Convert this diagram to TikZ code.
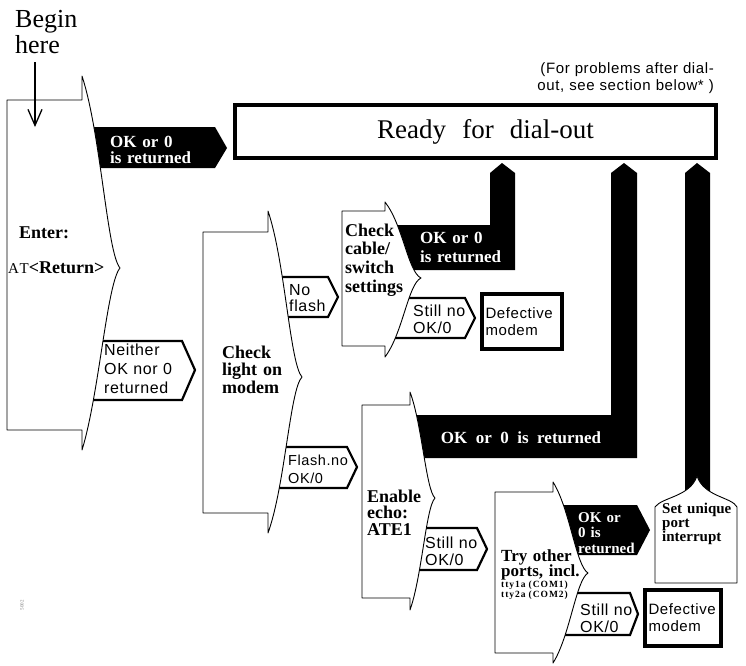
\documentclass[tikz,border=0pt]{standalone}
\usepackage{fontspec}
\setmainfont{Liberation Serif}
\setsansfont{Liberation Sans}
\newfontfamily\tabfont[LetterSpace=4]{Liberation Sans}
\newfontfamily\atfont[LetterSpace=15]{Liberation Serif}
\newfontfamily\ttyfont[LetterSpace=10]{Liberation Serif}
\usetikzlibrary{arrows.meta}

\begin{document}
\begin{tikzpicture}[x=1pt,y=-1pt,
    scroll/.style={draw,fill=white,line width=0.9pt,line join=round},
    whitetab/.style={draw,fill=white,line width=2.2pt},
    blackbar/.style={fill=black},
    heavybox/.style={draw,line width=4pt,inner sep=0pt},
    txt/.style={inner sep=0pt,anchor=base west,text width=120pt,align=left},
    headtxt/.style={txt,font={\bfseries\fontsize{18}{17.5}\selectfont\spaceskip=.4em\relax}},
    tabtxt/.style={txt,font={\tabfont\fontsize{16}{17}\selectfont\spaceskip=.45em\relax}},
    blacktxt/.style={txt,text=white,font={\bfseries\fontsize{17}{16.5}\selectfont\spaceskip=.45em\relax}}]
\useasboundingbox (0,0) rectangle (746,665);

% black connectors (behind the boxes)
\fill[blackbar] (90,127) -- (215,127) -- (227,148) -- (215,168) -- (90,168) -- cycle;
\fill[blackbar] (395,225) -- (490,225) -- (490,173) -- (502,163) -- (515,173) -- (515,270) -- (395,270) -- cycle;
\fill[blackbar] (400,415) -- (611,415) -- (611,173) -- (624,163) -- (637,173) -- (637,458) -- (400,458) -- cycle;
\fill[blackbar] (685,500) -- (685,173) -- (697,163) -- (710,173) -- (710,500) -- cycle;
\fill[blackbar] (560,505) -- (637,505) -- (650,530) -- (637,555) -- (560,555) -- cycle;

% white tabs
\draw[whitetab] (85,341) -- (182,341) -- (195,370) -- (182,400) -- (85,400);
\draw[whitetab] (272,277) -- (328,277) -- (338,297) -- (328,317) -- (272,317);
\draw[whitetab] (272,447) -- (347,447) -- (357,467) -- (347,488) -- (272,488);
\draw[whitetab] (395,298) -- (465,298) -- (475,318) -- (465,338) -- (395,338);
\draw[whitetab] (410,528) -- (477,528) -- (487,549) -- (477,570) -- (410,570);
\draw[whitetab] (565,593) -- (630,593) -- (638,614) -- (630,635) -- (565,635);

% step boxes
\draw[scroll] (7,100) -- (82,100) -- (82,76) .. controls (101,134) and (107,253) .. (120,268) .. controls (107,283) and (99,395) .. (82,450) -- (82,430) -- (7,430) -- cycle;
\draw[scroll] (203,232) -- (268,232) -- (268,211) .. controls (285,261) and (290,364) .. (302,377) .. controls (290,389) and (285,486) .. (268,533) -- (268,513) -- (203,513) -- cycle;
\draw[scroll] (342,211) -- (385,211) -- (385,202) .. controls (403,225) and (408,272) .. (421,278) .. controls (408,284) and (403,333) .. (385,357) -- (385,346) -- (342,346) -- cycle;
\draw[scroll] (362,405) -- (410,405) -- (410,392) .. controls (422,424) and (426,490) .. (435,498) .. controls (426,507) and (422,576) .. (410,610) -- (410,598) -- (362,598) -- cycle;
\draw[scroll] (495,492) -- (553,492) -- (553,482) .. controls (570,509) and (576,566) .. (588,573) .. controls (576,580) and (570,636) .. (553,663) -- (553,653) -- (495,653) -- cycle;
\draw[scroll] (655,583) -- (655,507) .. controls (662,497) and (690,497) .. (697,476) .. controls (704,497) and (732,497) .. (737,507) -- (737,583) -- cycle;

% start
\node[txt,font={\fontsize{26}{26}\selectfont}] (begin) at (15,27) {Begin\\here};
\coordinate (arrowtop) at (35,62);
\coordinate (arrowtip) at (35,127);
\draw[line width=1.3pt,-{Straight Barb[length=16pt,width=14pt]}] (arrowtop) -- (arrowtip);

% end boxes
\node[heavybox,minimum width=481pt,minimum height=53pt,font={\fontsize{27}{27}\selectfont\spaceskip=.6em\relax}] (ready) at (475.5,131.5) {\hspace*{20pt}Ready for dial-out};
\node[heavybox,tabtxt,anchor=center,text width=72pt,minimum height=55pt,inner xsep=4pt,font={\tabfont\fontsize{15}{17}\selectfont}] (defect1) at (521.5,321.5) {Defective\\modem};
\node[heavybox,tabtxt,anchor=center,text width=68pt,minimum height=56pt,inner xsep=4pt,font={\tabfont\fontsize{15}{17}\selectfont}] (defect2) at (682.5,618) {Defective\\modem};

\node[txt,anchor=base east,align=right,text width=220pt,font={\tabfont\fontsize{15}{17}\selectfont\spaceskip=.6em\relax}] (note) at (714,73) {(For problems after dial-\\out, see section below* )};

% texts
\node[headtxt] (enter) at (19,238) {Enter:};
\node[headtxt] (atret) at (8,273) {{\mdseries\atfont\fontsize{15}{15}\selectfont AT}<Return>};
\node[blacktxt] (okenter) at (110,147) {OK or 0\\is returned};
\node[tabtxt,font={\tabfont\fontsize{16}{19}\selectfont\spaceskip=.45em\relax}] (neither) at (104,355) {Neither\\OK nor 0\\returned};
\node[headtxt] (light) at (222,358) {Check\\light on\\modem};
\node[tabtxt,font={\tabfont\fontsize{16}{16}\selectfont}] (noflash) at (289,295) {No\\flash};
\node[tabtxt,font={\tabfont\fontsize{14.5}{18}\selectfont}] (flashno) at (288,465) {Flash.no\\OK/0};
\node[headtxt,font={\bfseries\fontsize{18}{18.7}\selectfont}] (cable) at (345,236) {Check\\cable/\\switch\\settings};
\node[blacktxt,font={\bfseries\fontsize{17}{19}\selectfont\spaceskip=.45em\relax}] (okcable) at (420,243) {OK or 0\\is returned};
\node[tabtxt] (stillcable) at (413,316) {Still no\\OK/0};
\node[headtxt,font={\bfseries\fontsize{18}{16.5}\selectfont}] (echo) at (367,502) {Enable\\echo:\\ATE1};
\node[blacktxt,anchor=base,text width=,font={\bfseries\fontsize{17}{17}\selectfont\spaceskip=.5em\relax}] (okecho) at (521,443) {OK or 0 is returned};
\node[tabtxt] (stillecho) at (425,548) {Still no\\OK/0};
\node[headtxt,font={\bfseries\fontsize{17}{15.5}\selectfont\spaceskip=.4em\relax}] (ports) at (501,561) {Try other\\ports, incl.};
\node[txt,font={\bfseries\ttyfont\fontsize{9.5}{10}\selectfont\spaceskip=.6em\relax}] (ttys) at (501,587) {tty1a (COM1)\\tty2a (COM2)};
\node[blacktxt,font={\bfseries\fontsize{15}{15.5}\selectfont\spaceskip=.45em\relax}] (okports) at (578,522) {OK or\\0 is\\returned};
\node[headtxt,font={\bfseries\fontsize{15}{14}\selectfont\spaceskip=.4em\relax}] (setirq) at (662,513) {Set unique\\port\\interrupt};
\node[tabtxt] (stillports) at (580,615) {Still no\\OK/0};

\node[rotate=90,text=gray,font={\fontsize{5}{5}\selectfont}] (fignum) at (22,605) {5002};
\end{tikzpicture}
\end{document}
